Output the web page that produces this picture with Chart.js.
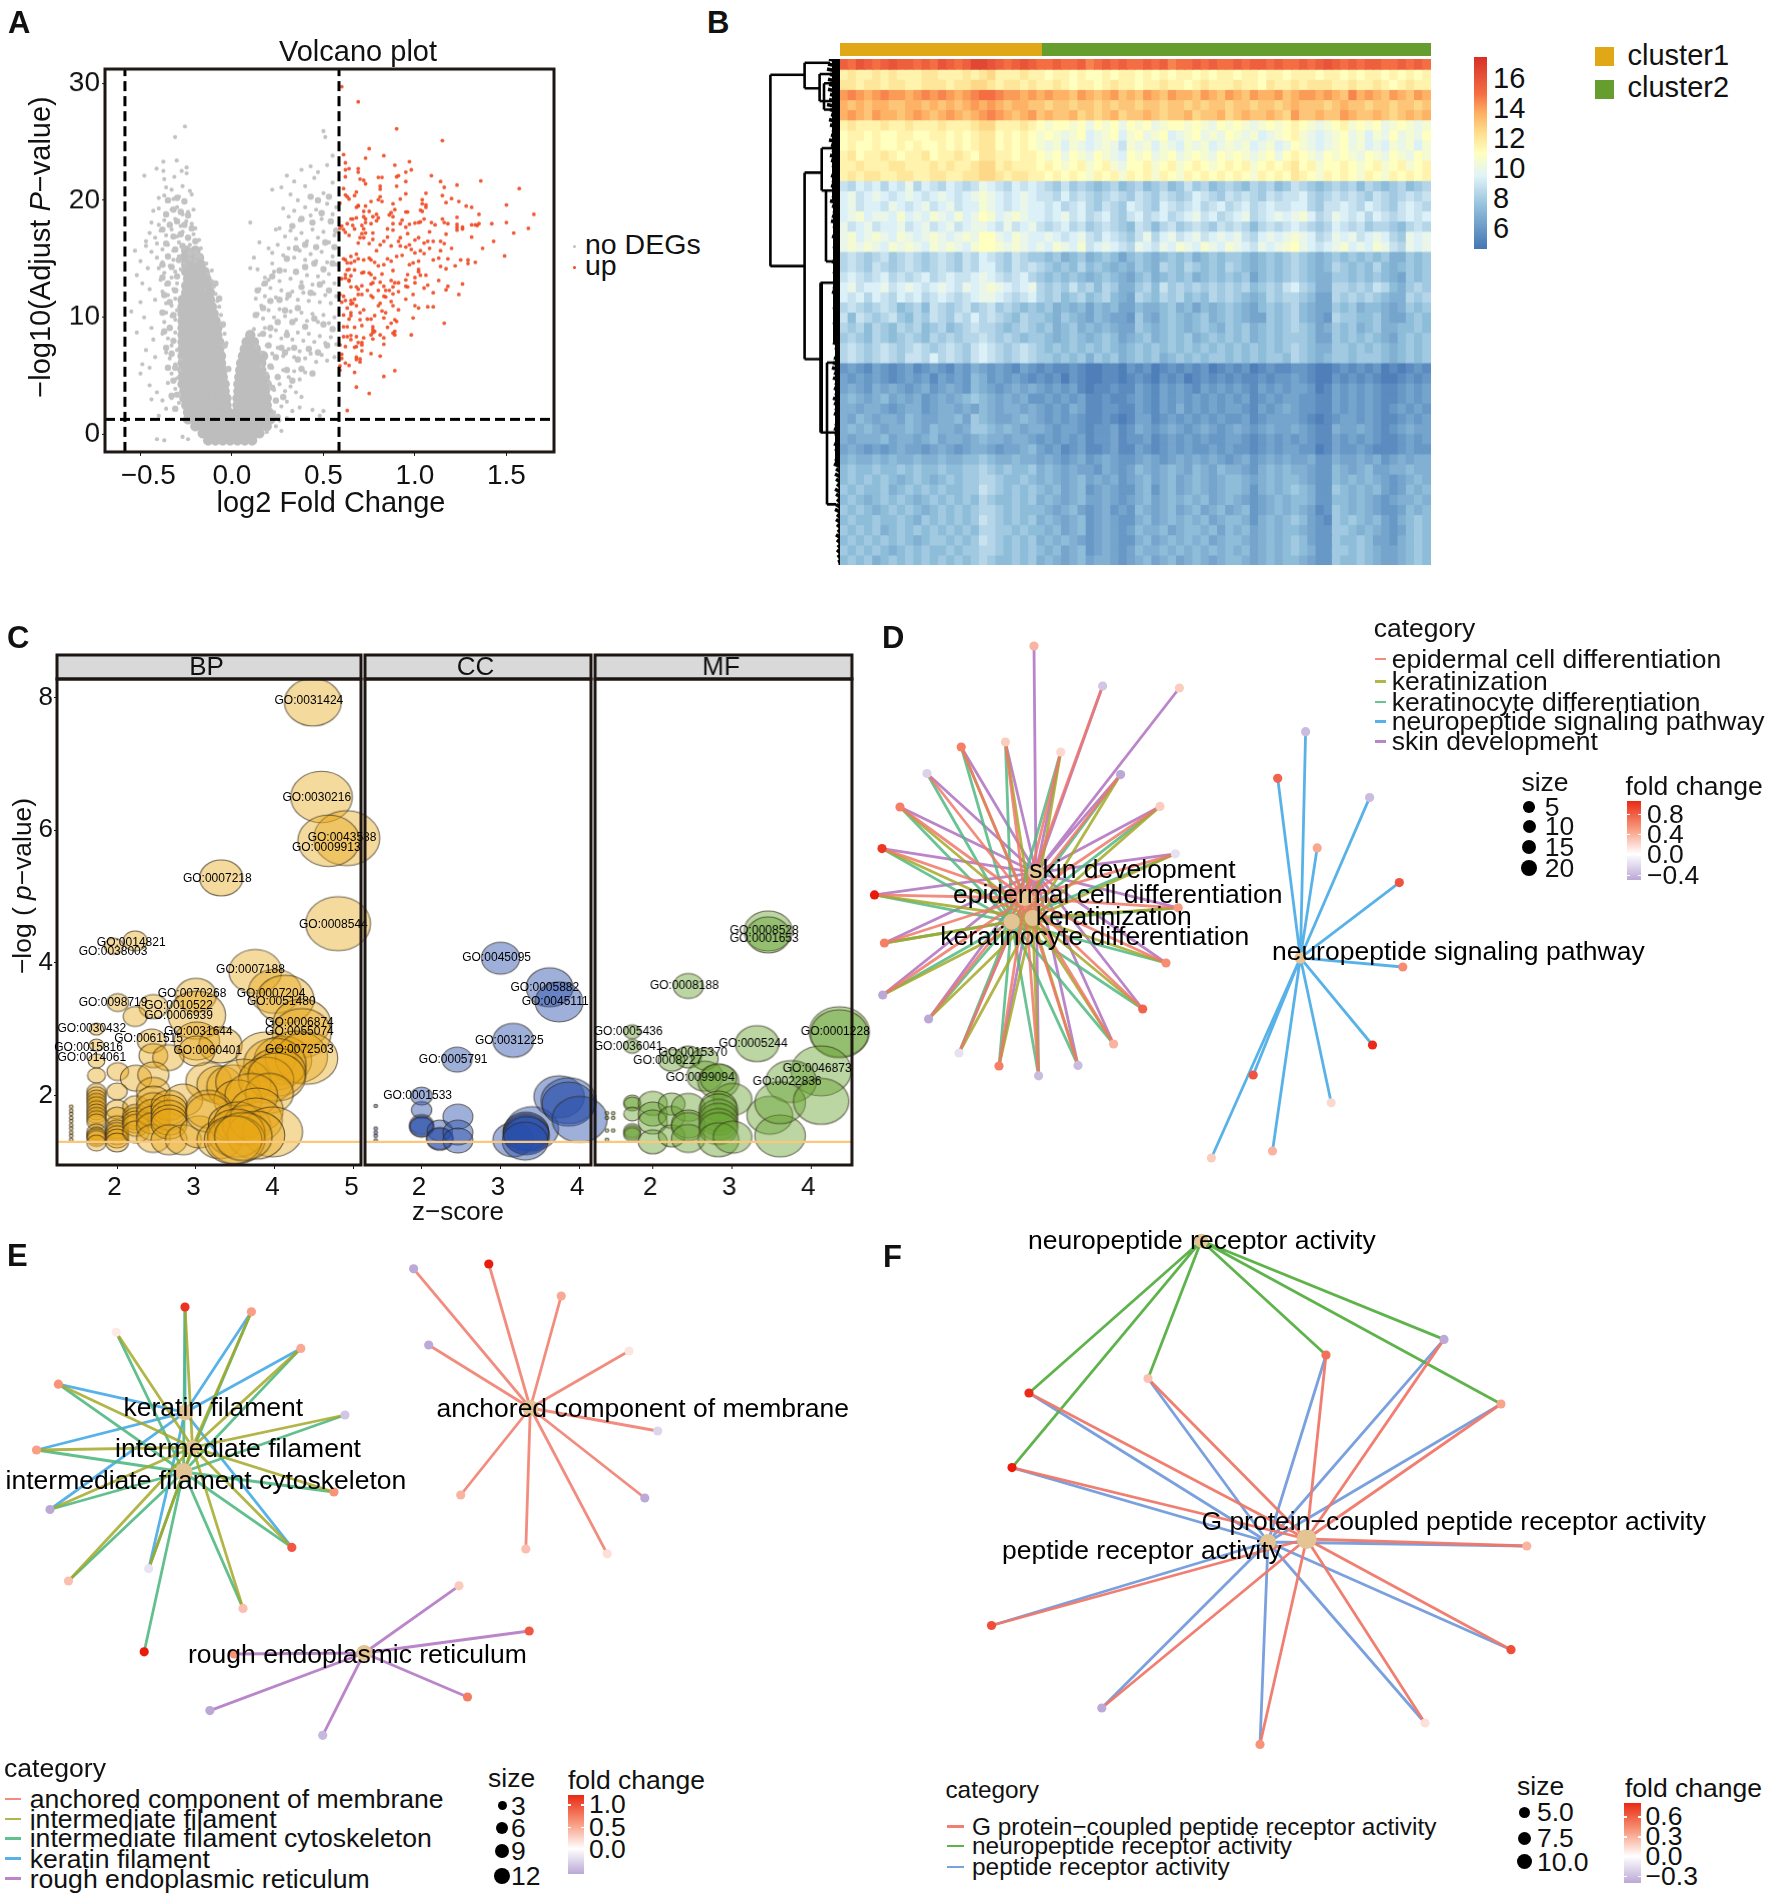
<!DOCTYPE html>
<html><head><meta charset="utf-8">
<script src="https://cdn.jsdelivr.net/npm/chart.js@4"></script>
<style>
html,body{margin:0;padding:0;background:#fff}
#page{position:relative;width:1772px;height:1898px;overflow:hidden;background:#fff;font-family:'Liberation Sans',Arial,sans-serif;color:#111}
#page canvas{position:absolute}
.t{position:absolute;white-space:pre;line-height:1;z-index:5}
.k{position:absolute;z-index:4}
</style></head><body><div id="page"></div>
<script>
/* ---------- Panel A: volcano ---------- */
const volcanoXTicks=[-0.5,0,0.5,1,1.5];
const volcanoYTicks=[0,10,20,30];
const volcanoCuts={fcLow:-0.585,fcHigh:0.585,p:1.3};
const volcanoUp=[[.60,29.7],[.69,28.4],[.90,26.1],[1.15,25.1],[.75,24.4],[.61,23.9],[.83,23.8],[.73,23.6],[.62,23.2],[.97,23.3],[.89,23.0],[.64,22.7],[.62,22.6],[.69,22.7],[.69,22.4],[.98,22.6],[.95,22.4],[1.09,22.1],[.62,22.0],[.70,21.8],[.72,21.7],[.73,21.4],[.80,21.95],[.82,21.95],[.90,22.0],[.91,22.1],[.95,21.6],[1.14,21.6],[1.36,21.65],[1.23,21.3],[1.16,21.1],[1.57,21.0],[.90,21.2],[.81,21.2],[.81,20.95],[.61,21.0],[.68,20.7],[.62,20.45],[.63,20.3],[.64,20.1],[.67,20.4],[.95,20.55],[1.06,20.6],[1.15,20.4],[.81,20.3],[.80,20.05],[.82,19.9],[.92,20.1],[1.04,20.05],[1.2,20.15],[1.24,19.9],[1.17,19.8],[.59,19.75],[.76,19.9],[.88,19.7],[1.04,19.7],[1.06,19.6],[1.06,19.4],[.69,19.5],[.68,19.4],[.69,19.55],[.73,19.5],[1.28,19.5],[1.31,19.4],[1.50,19.6],[1.03,19.15],[1.04,19.05],[.89,19.2],[.95,19.0],[.96,19.0],[.75,19.05],[.72,19.05],[.87,18.95],[.86,18.75],[.88,18.6],[.79,18.8],[.77,18.6],[.80,18.5],[1.35,18.8],[1.65,18.8],[1.23,18.55],[.68,18.5],[.66,18.4],[.65,18.4],[.72,18.6],[.73,18.4],[.73,18.1],[1.05,18.4],[1.15,18.4],[.93,18.3],[.92,18.0],[.79,18.25],[1.50,18.1],[1.02,18.1],[1.0,18.05],[1.03,18.15],[1.09,18.1],[1.16,18.1],[1.18,18.0],[.88,18.0],[.97,17.95],[1.42,18.0],[1.31,17.9],[1.33,17.9],[1.34,17.85],[1.35,18.0],[1.23,17.95],[1.23,17.7],[1.23,17.45],[1.26,17.7],[1.26,17.55],[1.11,17.9],[.95,17.7],[.66,17.85],[.67,17.55],[.63,18.0],[.60,17.8],[.59,17.6],[.61,17.5],[.71,17.85],[.72,17.55],[.76,18.0],[1.54,17.2],[1.62,17.6],[.88,17.45],[.85,17.55],[1.08,17.3],[1.17,17.1],[1.31,16.85],[1.43,16.5],[1.37,15.9],[1.49,15.25],
[.62,17.26],[.64,17.0],[.70,16.8],[.72,16.8],[.69,16.35],[.71,17.15],[.73,17.2],[.77,17.2],[.77,16.65],[.75,16.3],[.83,16.5],[.81,16.2],[.79,15.7],[.85,16.85],[.87,16.1],[.91,16.5],[.92,16.8],[.92,16.1],[.95,16.0],[.96,17.15],[.97,16.2],[.98,15.8],[1.0,15.5],[1.02,16.8],[1.0,16.6],[1.05,16.35],[1.07,16.5],[1.10,16.5],[1.03,15.7],[1.08,15.9],[1.14,16.5],[1.16,16.3],[1.14,15.7],[1.2,15.9],[1.13,15.05],[1.10,14.9],[1.18,15.0],[1.05,15.45],[1.25,14.9],[1.29,14.9],[1.29,14.6],[1.33,14.7],[1.22,14.4],[1.14,14.35],[1.17,14.15],[.97,14.5],[.99,14.65],[1.02,14.8],[1.02,14.1],[1.02,13.9],[.93,15.3],[.90,15.2],[.85,15.0],[.87,14.8],[.88,14.0],[.83,14.5],[.80,14.4],[.78,14.7],[.76,14.9],[.75,15.05],[.72,14.9],[.69,15.0],[.67,14.8],[.65,15.2],[.68,15.4],[.62,14.9],[.61,15.0],[.63,14.65],[.65,14.65],[.63,14.05],[.64,14.1],[.62,13.65],[.60,13.3],[.62,13.35],[.64,13.1],[.64,13.2],[.65,13.55],[.67,14.05],[.71,13.8],[.72,13.85],[.75,13.8],[.76,13.65],[.78,13.35],[.82,13.7],[.96,13.65],[.95,13.2],[1.0,13.4],[1.03,13.6],[1.06,13.6],[1.13,13.15],[1.0,12.95],[1.07,12.75],[.87,13.15],[.89,12.95],[.91,12.95],[.88,12.6],[.76,12.85],[.77,12.95],[.81,13.0],[.65,12.6],[.68,12.6],[.71,12.7],[.69,12.4],[.95,12.65],[.96,12.6],[1.05,12.5],[1.18,12.65],[1.17,12.35],[1.26,12.85],[.83,12.65],[.84,12.3],[.86,12.3],[.80,12.3],[.74,12.3],[.91,12.2],[.88,12.0],[.99,11.95],[1.10,12.1],[1.24,11.95],[.76,11.85],[.77,11.7],[.84,11.75],[.83,11.8],[.69,11.95],[.71,11.95],[.59,11.95],[.61,11.8],[.67,11.55],[.65,11.45],[.62,11.45],[.66,11.2],[.65,11.15],[.95,11.55],[.87,11.35],[.81,11.2],[.88,11.0],[.60,11.3],[.63,10.8],[.68,11.0],[.72,10.65],[.70,10.4],[1.0,11.0],[1.02,10.8],[1.07,10.9],[1.10,10.9],[.80,11.0],[.82,10.55],[.84,10.4],[.91,10.65],[.61,10.2],[.65,10.4],[.65,10.15],[.64,9.85],[.78,10.15],[.74,9.85],[.76,9.85],[.70,9.8],[.83,9.95],[.99,9.95],[.89,9.8],[.90,9.65],[.87,9.5],[1.16,9.5],[.61,9.2],[.63,9.2],[.67,9.15],[.71,9.3],[.77,9.2],[.85,9.15],[.77,8.95],[.78,8.8],[.77,8.7],[.88,8.65],[.89,8.8],[.89,8.5],[.61,8.35],[.63,8.35],[.65,8.45],[.68,8.35],[.72,8.25],[.65,8.1],[.69,7.85],[.76,8.5],[.77,8.15],[.81,8.5],[.83,8.25],[.98,8.5],[.59,7.65],[.62,7.5],[.67,7.45],[.68,7.5],[.71,7.85],[.71,7.65],[.83,7.7],[.71,7.15],[.76,6.9],[.60,6.85],[.60,6.5],[.68,6.6],[.68,6.4],[.70,6.45],[.70,6.2],[.81,6.7],[.62,6.1],[.64,5.9],[.59,5.85],[.59,5.5],[.67,5.3],[.83,4.95],[.89,5.45],[.68,4.05],[.75,3.5],[.63,2.05]];
/* dense part of the grey cloud: y level, then x positions along it */
const volcanoCoreRows=[
[-.5,[-.13,-.09,-.05,-.01,.03,.07,.11]],[.1,[-.16,-.12,-.08,-.04,0,.04,.08,.12,.15]],[.7,[-.2,-.16,-.12,-.08,-.04,-.01,.03,.07,.11,.15,.19]],
[1.3,[-.24,-.2,-.16,-.12,-.08,-.04,-.015,.02,.06,.1,.14,.18,.21]],[1.9,[-.24,-.2,-.16,-.12,-.08,-.04,-.02,.025,.06,.1,.14,.18,.2]],
[2.5,[-.25,-.21,-.17,-.13,-.09,-.05,-.03,.03,.07,.11,.15,.19]],[3.1,[-.26,-.22,-.18,-.14,-.1,-.06,-.03,.03,.07,.11,.15,.19]],
[3.7,[-.26,-.22,-.18,-.14,-.1,-.07,-.04,.035,.07,.11,.15,.18]],[4.3,[-.27,-.23,-.19,-.15,-.11,-.07,-.04,.035,.07,.11,.15,.19]],
[4.9,[-.27,-.23,-.19,-.15,-.11,-.08,-.05,.04,.07,.11,.15,.18]],[5.5,[-.27,-.23,-.19,-.15,-.11,-.08,-.05,.045,.08,.12,.16]],
[6.1,[-.27,-.23,-.19,-.15,-.12,-.09,-.06,.05,.09,.12,.16]],[6.7,[-.27,-.23,-.19,-.15,-.12,-.09,-.06,.06,.09,.13,.17]],
[7.3,[-.27,-.23,-.19,-.15,-.12,-.09,-.07,.07,.1,.13]],[7.9,[-.27,-.23,-.19,-.15,-.11,-.07,.08,.12]],[8.5,[-.27,-.23,-.19,-.15,-.11,-.08,.1]],
[9.1,[-.27,-.23,-.19,-.15,-.11,-.08]],[9.7,[-.27,-.23,-.19,-.15,-.12,-.09]],[10.3,[-.27,-.23,-.19,-.15,-.12,-.1]],[10.9,[-.27,-.23,-.19,-.15,-.11]],
[11.5,[-.27,-.23,-.19,-.15,-.12]],[12.1,[-.25,-.21,-.17,-.12]],[12.7,[-.25,-.21,-.17,-.13]],[13.3,[-.24,-.2,-.16,-.14]],[13.9,[-.25,-.22,-.18,-.15]],[14.5,[-.25,-.21,-.17]],[15.1,[-.26,-.21,-.18]],[15.7,[-.25,-.2]]];
/* medium density around the core */
const volcanoHalo=[[-.31,2.2],[-.3,3.4],[-.32,4.6],[-.31,5.7],[-.33,6.9],[-.32,8],[-.34,9.1],[-.32,10.2],[-.34,11.3],[-.31,12.3],[-.35,12.9],[-.3,13.5],[-.33,14.3],[-.29,14.9],[-.35,15.2],[-.31,15.8],[-.27,16.1],[-.23,15.5],[-.19,15.3],[-.36,16.3],[-.32,16.9],[-.28,17.1],[-.24,16.8],[-.2,16.5],[-.38,17.5],[-.34,17.9],[-.3,18.2],[-.26,17.9],[-.22,17.6],[-.36,18.8],[-.32,19.2],[-.28,19],[-.24,18.7],[-.35,20],[-.3,20.2],[-.26,19.9],[-.38,14.5],[-.38,13.4],[-.37,11.9],[-.38,10.4],[-.37,8.8],[-.36,7.4],[-.35,5.7],[-.33,3.3],[-.09,12.9],[-.07,11.6],[-.05,9.4],[-.04,7.6],[-.02,5.6],
[.22,1.6],[.24,2.9],[.22,4],[.25,4.9],[.21,5.8],[.24,6.6],[.27,7.4],[.2,7.6],[.17,8.6],[.21,9.1],[.25,9.6],[.13,10.2],[.17,10.8],[.21,11.4],[.14,12.3],[.18,12.9],[.22,13.5],[.26,14],[.3,5.5],[.29,7],[.3,8.5],[.34,7.4],[.33,9.6],[.29,10.6],[.26,11.5],[.31,11.9],[.36,10.8],[.4,9.2],[.45,9.9],[.38,12.6],[.43,12.1],[.48,12.8],[.53,12.3],[.35,13.9],[.4,14.3],[.45,14.6],[.5,14.1],[.55,14.6],[.3,15],[.35,15.9],[.4,16.2],[.46,16],[.51,16.4],[.56,16],[.33,17.8],[.38,18.4],[.44,18.1],[.49,18.9],[.54,18.2],[.57,17.4],[.47,20],[.53,20.3],[.43,20.3],[.36,6.4],[.42,7.3],[.47,7],[.52,7.6],[.55,9],[.5,9.4],[.33,4.6],[.38,5.6],[.44,5.2],[.28,3.2],[.25,1.5]];
const volcanoFlat=[[-.257,26.3],[-.311,25.4],[-.302,23.4],[-.375,23.3],[-.412,22.7],[-.375,22.5],[-.479,22.1],[-.37,21.8],[-.315,22],[-.275,22.5],[-.248,22.8],[-.248,22.3],[-.36,21.1],[-.33,20.9],[-.27,21.2],[-.23,20.8],[-.40,20.2],[-.37,20.4],[-.32,20.1],[-.29,20.3],[-.26,19.9],[-.22,20.5],[-.43,19.1],[-.40,19.3],[-.36,18.9],[-.33,19.2],[-.30,19.4],[-.27,18.8],[-.24,19.0],[-.21,19.2],[-.44,18.1],[-.40,17.9],[-.37,18.3],[-.34,18.0],[-.31,18.4],[-.28,17.8],[-.25,18.2],[-.22,18.0],[-.20,17.6],[-.45,17.2],[-.42,16.8],[-.39,17.4],[-.36,17.0],[-.33,17.5],[-.30,16.9],[-.27,17.3],[-.24,16.7],[-.21,17.1],[-.18,16.6],[-.47,16.1],[-.44,15.6],[-.41,16.3],[-.38,15.8],[-.35,16.2],[-.32,15.7],[-.29,16.4],[-.26,15.9],[-.23,16.2],[-.20,15.6],[-.17,15.9],[-.41,15.1],[-.38,14.7],[-.35,15.3],[-.32,14.9],[-.29,15.2],[-.26,14.6],[-.23,15.0],[-.20,14.8],[-.17,15.1],[-.14,14.6],[-.40,14.2],[-.37,13.8],[-.34,14.4],[-.31,13.9],[-.28,14.1],[-.13,13.7],[-.11,14.0],[-.39,13.2],[-.36,12.8],[-.33,13.4],[-.30,12.9],[-.11,13.1],[-.10,12.6],[-.38,12.2],[-.35,11.9],[-.32,12.4],[-.09,12.0],[-.08,11.4],[-.42,11.5],[-.36,11.2],[-.33,11.0],[-.31,11.6],[-.07,10.9],[-.06,10.2],[-.36,10.4],[-.33,10.1],[-.30,10.6],[-.37,9.6],[-.34,9.2],[-.31,9.8],[-.05,9.3],[-.38,8.6],[-.35,8.2],[-.31,8.7],[-.04,8.6],[-.33,7.6],[-.30,7.2],[-.36,7.0],[-.03,7.8],[-.34,6.5],[-.31,6.0],[-.28,6.4],[-.33,5.2],[-.30,4.8],[-.28,5.5],[-.35,4.4],[-.31,3.9],[-.33,3.1],[-.29,2.7],[-.36,2.2],[-.47,16.5],[-.50,14.8],[-.53,15.7],[-.46,14.2],[-.52,13.6],[-.49,12.9],[-.45,12.4],[-.50,11.3],[-.55,10.5],[-.48,10.0],[-.44,9.1],[-.52,8.7],[-.43,8.1],[-.47,7.2],[-.49,6.0],[-.45,5.7],[-.42,6.6],[-.45,4.2],[-.41,3.6],[-.38,2.9],[-.50,5.2],[-.44,3.0],[-.40,1.6],[-.37,-.5],[-.41,-.4],[-.27,-.2],[-.24,-.4],
[.10,14.2],[.10,18.1],[.12,15.1],[.14,14.1],[.15,16.4],[.17,12.8],[.13,11.6],[.16,11.0],[.18,13.4],[.20,15.9],[.22,14.6],[.24,17.5],[.22,20.9],[.27,21.1],[.30,22.1],[.32,20.5],[.34,21.6],[.36,20.0],[.38,22.6],[.40,21.2],[.43,22.9],[.45,21.9],[.47,22.4],[.50,20.6],[.52,23.0],[.55,21.5],[.50,25.9],[.51,25.4],[.55,23.8],[.28,19.3],[.31,18.6],[.34,19.1],[.37,18.3],[.40,19.4],[.43,18.7],[.46,19.2],[.49,18.4],[.52,19.7],[.55,18.8],[.57,19.4],[.26,17.6],[.29,16.9],[.32,17.4],[.35,16.7],[.38,17.2],[.41,16.5],[.44,17.5],[.47,16.8],[.50,17.3],[.53,16.4],[.56,17.0],[.22,15.5],[.25,16.2],[.28,15.3],[.31,15.9],[.34,15.1],[.37,15.7],[.40,14.9],[.43,15.4],[.46,14.8],[.49,15.6],[.52,14.7],[.55,15.2],[.57,14.5],[.20,13.2],[.23,13.9],[.26,13.1],[.29,14.0],[.32,13.3],[.35,13.8],[.38,13.0],[.41,13.6],[.44,12.8],[.47,13.5],[.50,13.0],[.53,13.7],[.56,12.9],[.15,12.4],[.18,11.8],[.21,12.5],[.24,11.7],[.27,12.3],[.30,11.6],[.33,12.2],[.36,11.5],[.39,12.1],[.42,11.4],[.45,12.0],[.48,11.3],[.51,11.9],[.54,11.2],[.57,11.8],[.14,10.3],[.17,9.9],[.20,10.6],[.23,10.0],[.26,10.7],[.29,10.1],[.32,10.5],[.35,9.8],[.38,10.4],[.41,9.7],[.44,10.3],[.47,9.6],[.50,10.2],[.53,9.5],[.56,10.0],[.12,9.0],[.15,8.5],[.18,9.1],[.21,8.4],[.24,8.9],[.27,8.2],[.30,8.8],[.33,8.1],[.36,8.7],[.39,8.0],[.42,8.6],[.45,7.9],[.48,8.4],[.51,7.8],[.54,8.3],[.57,7.7],[.13,7.5],[.16,7.0],[.19,7.6],[.22,6.9],[.25,7.4],[.28,6.7],[.31,7.3],[.34,6.6],[.37,7.1],[.40,6.5],[.43,6.9],[.46,6.2],[.49,6.8],[.52,6.3],[.56,6.6],[.16,5.8],[.19,5.2],[.22,5.7],[.25,5.0],[.28,5.5],[.31,4.9],[.34,5.4],[.37,4.7],[.40,5.3],[.20,4.4],[.23,3.8],[.26,4.3],[.29,3.7],[.32,4.1],[.35,3.6],[.38,3.2],[.24,2.9],[.27,2.4],[.30,2.8],[.33,2.0],[.23,1.9],[.26,1.2],[.30,1.4],[.24,.7],[.19,.2],[.27,.3],[.37,2.3],[.44,2.1],[.48,1.6],[.50,2.0]];

/* ---------- Panel B: heatmap (a=5, b=5.5, c=6 ... each letter adds 0.5) ---------- */
const clusterNames=['cluster1','cluster2'];
const clusterSizes=[134,259];
const heatmapRows=[
"vuwvuvwvvuvu wvuvxxwvuvwv uuvuuvtuvuvu uvuvtuuvuvuu vuvvuvuuvuvw vuvuvvuuvuvu",
"nonnononnnoo nnnonopnnnon nmnnmnmmnmnn mnmnmnnmnmnn mnnmnnmnnnmn nmnmnnmnmnmn",
"oonoonoonnoo onoopponoono nnonmnnmnonn mnnonnmnonnn onnmonnonooo nnonnonmnonn",
"stsrstssrsts tsrstuutssrs rsrrqsrqrsqr qsrqsrrqsrqs rqsrrsqrssrs rqtrsrqsrqsr",
"rqrqrrqqrrqr qrqrsrsrqrrq qpqqpqqpqpqq pqqpqqpqpqqp qqpqqpqrqqqp qrqqpqqpqqpq",
"rsrqsrrqrsrq rsrqrstsrqrs qrqqrpqpqrpq qrqpqqrpqqrp qrqqrqpsqqrq qsrqqrqpqrqr",
"nonnnonnonnn onnnoppnnnon mlmmlmkmlmkm lmklmmlmlkml mlklmlmnmlkl mnlmlmklmlkl",
"mnnmnmmnnmmn nmnmnoomnmnm lmlklmjklmjl mklmjklmklkm lkljklmnlkjk lmkljlkmklkm",
"mnmmnmmnmnmm nmnmnoomnmnm lkljlkjklkil kljlkjlkljkl kljkljkmlkjk lmkljkjlkljl",
"nomnnonmnnom nnonmoonnmnn mlmkmlkmlkjm lmklmklmlkml mlklmkmnmlkm lmlkmlkmlkml",
"nnonnnoonnno nonnoppnonnn mnmlmnlmnlkm mnlmnlmnmlmn mnlmnmnomnlm mnmlmnlmnlmn",
"nonoonnoonno onnoopponoon nmnmnmlnmnln mnlnmlnmnmnm nmlnmnmonmln mnmlnmlnmnmn",
"ihjijhjikhji hjihikjihjij ihgighgfghfg hfghfgighfgh gfhghfgihgfg hghfhgfghfgh",
"jkijkjijkjij kjijklkjijkj iihjhihghihg ihgihghjihgi hihgihiijhgh ihihgihghihi",
"jkijjikjijki jkijjlkjijkj jijhijhgihgj ihgjihijhijh ijhijiijjhgi ijihjihgijih",
"jkljkkjljkjl kjljkmljklkj jijkijhijhgi jhijhijkijhi jkhijkjkljhi kjijhjihijij",
"kijkijjkijki jkijkkjikijk ihijhighihgf ihfhighihgih ihfhihijihgh jihighhgfhih",
"kljklkjlkjkl kjklkmmkjlkj jkjijkihjihg ikhjkijkijkj kihjkjklkjhi kjkijkjhgkjk",
"klklkjlklkjl klkjlmmlklkj kjlkjlijkjih kjikjlkjlkjl kjikjklmkjij kljkjlkihkjk",
"hihghighihgh ihgihjihgihg gfgefgefgfdf gfefgfgefgfg gfefgfghgfef gfgfgfgeegfg",
"hihgihghihgh ihgihjjhgihi hgfgfhfgfefe gfehgfhgfgfh gfefgfghgfef hgfgfhfefgfg",
"ijihijhihijh ijiijkjihijh gfgfgfefgfed fgefgfgefgfg fgdfgfghgfee ggfgfgfedgfg",
"jkijjkijkjij kjikjklkjijk hghgighfhgee ghfighghghgh ghfghgijhgee hhghgihfeghg",
"jijhjihjijhi jihijkkjihij hghfghfghfed hgfhghfgfhgh gfefhghhgfdd hghghgfeehgh",
"hihghihfghfi hghighighgfg fgefefdfefdd feefgefdfefg fedfgfghfedd gfgeffedegfg",
"ifihghigfhgi hgihjhihgfhg gfegfedfeddc gedfgfefgefg feddgfghfedc hggffgeddfgf",
"hghfhgfhghfg hfghihhgfghg fgefgefefedd gfefgfefgfeg fgefgfghgfde gfgefgeeffgf",
"ghgfhgfghgfh ghghhihghgfg gfefgfefgfde fgefgfgefgfg fgefgfgggfdd gfgfgfedfgfg",
"hihghihghihg hihgijihghih gfgfgfgfgfef gfgfgfgfgfgf gfgfgfghgfee ggfgfgfefgfg",
"hihghihgiihj hihgijihghih ggfgfgegfgef gfgefgfgfggf gfgfggfhgfef ggfgggfefgfg",
"cdcbdcbcdbcd cbdcedcdcbdc bcbbcbaabbac bcabcbcbcabc bcabcbbccbaa bcbcbcababcb",
"dcdcdcbcdcdb dcdcfecdcdcb cbcacbaabbab cbacbcabcbcb cbbcbccdcbaa cbcbcbaabcbc",
"dedcededcdec dedcfedcdede dcdcdbabbcbb dcbdcdcbdcdc dcbdcdcddcab dcdcdcbbcdcd",
"efedefdedecd edefgfededec cdcdcdbbcbbc dcbdcdcdcdcd cdbcdcddccbb dcdcdcbbcdcd",
"eedeedcdeecd eededfedeede dcdcedbbccbb dcbdcecdcdcd dcbdcdedccbb dcdcdcbcdcdc",
"edfedeedfedd eefdgfeddefe dcdcdcbbcbab ddbcdcdcdcdc cdbcddddcbab cddcdcbbcdcd",
"efefedeefedf eedeggfefede edcddcbccdbc edcdedcdedcd edcdeddedcbb eddedcbcdedd",
"edeeefdeedef deedefeedeed cdcdcdbccdbc cdbcdcdcdccd dcbcdcdcdcbb dcdcdcbbcdcd",
"dedcdcdeddcd edcdeedcddef dcdbcdbbcdbb dcbcdcdccdcd ccbcdcddccab dccdcbbbcdcc",
"efeefefeefee feeffgfeefee dedcdecdedcc dedcdedededc decdededdecc eddedecdedee",
"fgffgffgfgff gffgghgfgffg efededdcedcd fedefedfedfe edcefefeedcc fedefddeefee",
"fgfgfgfefgfe fgfgghhgffgf efedefdedecd efdefdefedef fedefeffedcc fefefedcdefe",
"gfgffgefgfgf gffggihgfgfg fefdefcdedcc efcefdefedef fecefefgfecc gfefefdcdfef",
"fgfefgfgfefg fgfgfhgffgfg efedefddedcd efdefefefdef edcdefeffecc ffefedcdeefe",
"gfgfefgfgfef gfgfghhgfgff fedefdcdecdc fedefdefdefd efcdefefedbc gfefedccdfef",
"fgffgffgfegf gfgfgihgfgfg efedefcdedcc efdefefefdef fecefefgfdcb gfgfefdcefgf",
"gfgfgefgfgfg fgfgfhhggfgf fefdefcdedcd feefdeffefdf efdefeffedcc ggfefedcdfgf",
"fgfgfgfgfefg gfgfgihgfgfg efefedcdedcc efdefefefdef fedefefgfdcc gffgfddcefgf",
"gfgfgfefgfgf fgfgghhgfgfg fefdefcdedcd feefefefefef efdefefgfecc ggfgfeddefgf",
"fgfgefgfgfgf gfgfghgffgfg efedefdeedcd efdefdefedef fedefeffedcc gffgfeddefgf"];
const colorbarTicks=[16,14,12,10,8,6];
const dendroSegments=[[69.6,1.56,69.6,20.46],[69.6,1.56,35.4,1.56],[69.6,20.46,35.4,20.46],[35.4,.37,35.4,2.9],[35.4,.37,10,.37],[35.4,2.9,20.4,2.9],[20.4,1.49,20.4,4.16],[20.4,1.49,8,1.49],[20.4,4.16,8,4.16],[16,2.4,16,5],[16,2.4,8,2.4],[16,5,8,5],[35.4,11.23,35.4,29.65],[35.4,11.23,18.3,11.23],[35.4,29.65,18.3,29.65],[18.3,8.81,18.3,13],[18.3,8.81,6,8.81],[18.3,13,6,13],[19.5,22.1,19.5,36.9],[19.5,22.1,5,22.1],[19.5,36.9,5,36.9],[18.3,22.1,18.3,36.9],[13,30,13,44],[13,30,4,30],[13,44,4,44],[14,13,14,20],[14,13,5,13],[14,20,5,20]];
const dendroTrunk=[[4,0,4,14],[3,14,3,28],[1,28,1,40],[-2.5,40,-2.5,50]];
const dendroTips=[11,12,13,10,12,11,12,10,11,13,10,9,11,10,8,9,11,9,8,10,9,8,7,9,8,9,7,8,10,8,7,8,9,7,6,8,6,7,5,6,8,6,7,5,6,7,8,6,5,7,6,5,7,6,5,6,7,5,4,6,7,8,6,7,5,6,5,7,6,5,6,4,5,6,5,4,6,5,4,5,6,4,5,4,3,5,4,3,4,5,3,4,3,2,4,3,2,3,2,1];

/* ---------- Panel C: GO bubbles (z-score, -log p, size) ---------- */
const goXTicksBP=[2,3,4,5], goXTicksOther=[2,3,4], goYTicks=[2,4,6,8], goCut=1.3;
const bpBubbles=[[1.42,1.83,1.6],[1.42,1.77,1.6],[1.42,1.72,1.6],[1.42,1.66,1.6],[1.42,1.61,1.6],[1.42,1.55,1.6],[1.42,1.5,1.6],[1.42,1.44,1.6],[1.42,1.39,1.6],[1.42,1.33,1.6],
[4.48,7.93,23.7],[4.59,6.50,25.7],[4.91,5.88,27.5],[4.68,5.84,25.7],[3.32,5.28,18],[4.80,4.59,27],[2.23,4.33,10],[1.96,4.25,8],[3.75,3.87,22],[4.0,3.57,22],[4.13,3.45,24],[4.34,3.09,24],[4.34,2.94,24.5],[3.0,3.51,17],[2.46,3.34,12],[3.01,3.21,24],[2.01,3.40,9],[2.23,3.19,10],[1.74,3.0,6],[2.44,2.82,12],[3.01,2.82,19],[3.31,2.76,18],[3.01,2.67,15],[1.74,2.76,6],[1.74,2.52,7],[1.74,2.3,7.5],[2.01,2.36,9],[2.46,2.6,12],[2.65,2.57,13],[2.24,2.26,13],[2.46,2.31,13],
[3.89,2.58,25],[4.1,2.53,24],[4.27,2.58,26],[4.4,2.56,26],[4.0,2.47,26],[4.03,2.35,24],[3.16,2.21,19],[3.3,2.16,19],[3.47,2.13,22],[3.6,2.2,23],[3.89,2.23,23],[4.02,2.28,24],[3.53,1.93,20],[3.93,2.03,20],[3.7,2.0,22],[3.77,1.78,22],
[1.74,2.06,8],[1.74,2.01,8],[1.74,1.96,8],[1.74,1.91,8],[1.74,1.86,8],[1.74,1.8,8],[1.74,1.75,8],[1.74,1.7,8],[1.74,1.65,8],[1.74,1.6,8],[1.74,1.45,8],[1.74,1.4,8],[1.74,1.38,8],[1.74,1.35,8],[1.74,1.28,8],
[2.0,2.06,8.5],[2.0,1.79,9.5],[2.0,1.68,9.5],[2.0,1.55,9.5],[2.0,1.49,9.5],[2.0,1.45,9.5],[2.0,1.4,9.5],[2.0,1.35,9.5],[2.0,1.29,9.5],
[2.24,1.83,11],[2.24,1.7,11],[2.24,1.65,11],[2.24,1.6,11],[2.24,1.55,11],[2.24,1.45,11],
[2.46,2.06,14],[2.46,1.93,14],[2.46,1.83,14],[2.46,1.73,14],[2.46,1.63,14],[2.46,1.53,14],[2.46,1.35,14],
[2.84,1.93,16],[2.66,1.85,15],[2.66,1.78,15],[2.66,1.7,15],[2.66,1.63,15],[2.66,1.57,15],[2.66,1.33,15],[2.84,1.33,15],[3.04,1.45,16],[3.16,1.79,19],[3.16,1.73,19],[3.3,1.33,19],[3.43,1.58,18],[3.53,1.6,20],[3.64,1.55,20],[3.76,1.63,22],[3.97,1.45,25],[3.76,1.40,24],[3.51,1.43,24],[3.51,1.33,24],[3.47,1.33,24],[3.6,1.38,24]];
const bpLabels=[[4.43,7.95,'GO:0031424'],[4.53,6.49,'GO:0030216'],[4.85,5.88,'GO:0043588'],[4.65,5.73,'GO:0009913'],[3.27,5.27,'GO:0007218'],[4.74,4.58,'GO:0008544'],[2.18,4.31,'GO:0014821'],[1.95,4.16,'GO:0038003'],[3.69,3.89,'GO:0007188'],[3.95,3.53,'GO:0007204'],[4.08,3.41,'GO:0051480'],[2.95,3.53,'GO:0070268'],[2.78,3.35,'GO:0010522'],[2.78,3.2,'GO:0006939'],[1.95,3.4,'GO:0098719'],[1.68,3.0,'GO:0030432'],[2.4,2.85,'GO:0061515'],[3.03,2.96,'GO:0031644'],[3.15,2.67,'GO:0060401'],[4.31,3.1,'GO:0006874'],[4.31,2.96,'GO:0055074'],[4.31,2.69,'GO:0072503'],[1.64,2.72,'GO:0015816'],[1.68,2.57,'GO:0014061']];
const ccBubbles=[[1.42,1.84,1.6],[1.42,1.5,1.6],[1.42,1.44,1.6],[1.42,1.39,1.6],[1.42,1.32,1.6],[3.0,4.07,16],[3.62,3.63,19.5],[3.74,3.41,20],[3.16,2.83,17],[2.45,2.54,12.5],[2.0,1.99,9],[2.0,1.78,8.5],[2.0,1.56,10],[2.0,1.52,10],[2.0,1.53,10],[2.23,1.47,10.5],[2.23,1.35,11],[2.23,1.34,11],[2.46,1.68,12.5],[2.46,1.44,12.5],[2.46,1.32,12.5],[3.16,1.33,17],[3.4,1.5,22],[3.32,1.46,19],[3.32,1.44,19],[3.32,1.41,19],[3.33,1.39,19],[3.31,1.31,19],[3.74,1.98,21],[3.86,1.92,23],[3.86,1.87,22],[4.0,1.64,23]];
const ccLabels=[[2.95,4.07,'GO:0045095'],[3.56,3.63,'GO:0005882'],[3.69,3.41,'GO:0045111'],[3.11,2.83,'GO:0031225'],[2.40,2.54,'GO:0005791'],[1.95,1.99,'GO:0001533']];
const mfBubbles=[[1.42,1.73,1.6],[1.42,1.66,1.6],[1.42,1.47,1.6],[1.42,1.33,1.6],[1.5,1.73,1.6],[1.5,1.66,1.6],[1.5,1.47,1.6],[3.46,4.48,20],[3.46,4.42,18],[2.45,3.65,12.5],[1.74,2.96,7],[1.74,2.74,7],[2.45,2.58,11],[2.66,2.55,11],[2.24,2.53,11],[2.66,2.29,15],[2.83,2.21,17],[2.83,2.25,15],[3.01,1.94,16],[3.32,2.78,18],[4.36,2.96,25],[4.36,2.93,24],[4.13,2.37,25],[3.75,2.21,21],[3.48,1.70,19],[3.61,1.39,21],[3.61,1.89,21],[4.13,1.91,23],[1.74,1.90,7],[1.74,1.87,7],[1.74,1.72,7],[1.74,1.47,7],[1.74,1.44,7],[1.74,1.41,7],[2.0,1.88,12],[2.0,1.72,12],[2.0,1.60,12],[2.0,1.30,12],[2.24,1.87,11],[2.24,1.67,11],[2.24,1.39,11],[2.45,1.82,14],[2.45,1.57,14],[2.45,1.53,14],[2.45,1.35,14],[2.83,1.84,15],[2.83,1.78,16],[2.83,1.70,16],[2.83,1.64,16],[2.83,1.56,16],[2.83,1.50,16],[2.83,1.33,17],[3.01,1.37,16]];
const mfLabels=[[3.41,4.49,'GO:0008528'],[3.41,4.37,'GO:0001653'],[2.40,3.65,'GO:0008188'],[1.69,2.96,'GO:0005436'],[1.69,2.74,'GO:0036041'],[2.51,2.65,'GO:0015370'],[2.19,2.52,'GO:0008227'],[2.60,2.27,'GO:0099094'],[3.27,2.78,'GO:0005244'],[4.31,2.96,'GO:0001228'],[4.08,2.40,'GO:0046873'],[3.70,2.20,'GO:0022836']];

/* ---------- Panels D/E/F: gene-concept networks (layout position, fold change) ---------- */
const netDCategories=['epidermal cell differentiation','keratinization','keratinocyte differentiation','neuropeptide signaling pathway','skin development'];
const netDColors=['rgba(240,120,105,.85)','rgba(165,168,40,.85)','rgba(80,185,130,.85)','rgba(70,170,230,.9)','rgba(178,120,195,.9)'];
const netDHubs=[[1025,898],[1032.7,918],[1011.7,921.7],[1300.4,957.8],[1036,872.7]];
const netDLeaves=[[1034,646,.3],[1102.6,686,-.2],[1179.4,688,.2],[961.2,747,.5],[1005.4,742,.2],[1060.7,752,.15],[927,773.5,-.15],[1120.6,774.6,-.35],[900,807,.5],[1160,806.4,.2],[882,848.6,.75],[1175.3,853.8,-.08],[874.5,894.9,.85],[1178.2,907.8,.4],[884.4,943,.5],[1166,963,.45],[882.7,995,-.4],[1142.7,1009,.6],[928.6,1019,-.35],[1113.6,1044,.3],[959,1053,-.08],[999,1066,.5],[1038.6,1075.8,-.25],[1078,1065.4,-.25],
[1305.6,731.7,-.25],[1277.7,778.3,.6],[1369.6,797.6,-.25],[1317.2,847.9,.35],[1399.3,882.6,.65],[1402.8,967,.45],[1372.5,1045,.8],[1253.2,1075,.65],[1331.2,1102.8,.15],[1272.5,1151,.3],[1211.4,1158,.2]];
const netDMembers=[[1,3,4,5,6,7,8,9,10,11,12,13,14,15,16,17,18,19,20,21,22,23],[3,4,5,7,8,9,10,11,12,13,14,15,16,17,18,19,20,21,22,23],[3,4,5,6,7,8,9,10,11,12,13,14,15,16,17,18,19,20,21,22,23],[24,25,26,27,28,29,30,31,32,33,34],[0,1,2,3,4,5,6,7,8,9,10,11,12,13,14,15,16,17,18,19,20,21,22,23]];
const netDLabels=[[1029.3,870.8,'skin development'],[953,896,'epidermal cell differentiation'],[1035.7,917.4,'keratinization'],[940.3,937.4,'keratinocyte differentiation'],[1271.9,952.6,'neuropeptide signaling pathway']];

const netECategories=['anchored component of membrane','intermediate filament','intermediate filament cytoskeleton','keratin filament','rough endoplasmic reticulum'];
const netEColors=['rgba(240,120,105,.85)','rgba(165,168,40,.85)','rgba(80,185,130,.9)','rgba(70,170,230,.9)','rgba(178,120,195,.9)'];
const netEHubs=[[530.3,1408],[192.5,1447.3],[183.5,1472],[185,1412.4],[364.2,1653]];
const netELeaves=[[185,1307,.9],[251.4,1311.8,.45],[116.2,1332.3,.1],[300.8,1348.4,.4],[58.4,1384.2,.5],[345,1415,-.15],[36.5,1450,.45],[333.9,1492,.5],[50,1509.5,-.3],[291.8,1547.4,.75],[68.5,1581,.3],[148.7,1568.7,-.05],[243,1608.4,.3],[144.2,1651.8,1.0],
[413.6,1268.8,-.25],[488.8,1264,1.0],[561.2,1296,.4],[428.7,1345,-.25],[629,1351,.12],[657.7,1431,-.1],[644.8,1498,-.25],[460.7,1495,.35],[525.8,1549,.3],[607.2,1553.8,.15],
[459,1585.8,.25],[529.2,1631,.75],[234,1654,.5],[467.5,1697,.6],[209.9,1710.6,-.3],[322.7,1735.3,-.2]];
const netEMembers=[[14,15,16,17,18,19,20,21,22,23],[0,1,2,3,4,5,6,7,8,9,10,11,12],[0,1,2,3,4,5,6,7,8,9,10,11,12,13],[0,1,3,4,6,8,9,11],[24,25,26,27,28,29]];
const netELabels=[[123.5,1409,'keratin filament'],[115,1449.4,'intermediate filament'],[5.6,1481.4,'intermediate filament cytoskeleton'],[436.6,1410,'anchored component of membrane'],[188,1656,'rough endoplasmic reticulum']];

const netFCategories=['G protein\u2212coupled peptide receptor activity','neuropeptide receptor activity','peptide receptor activity'];
const netFColors=['rgba(240,120,105,.95)','rgba(85,175,65,.95)','rgba(115,155,220,.95)'];
const netFHubs=[[1306.6,1539],[1201.4,1240.7],[1268,1542]];
const netFLeaves=[[1029,1393,.65],[1012,1467.6,.7],[1148,1378.5,.2],[1326,1355,.45],[1444,1339.4,-.25],[1501,1404,.3],[1526.8,1546,.25],[1511,1649.7,.55],[1425,1723,.1],[1260,1744.4,.35],[1101.8,1708,-.25],[991.5,1625.5,.55]];
const netFMembers=[[0,1,2,3,4,5,6,7,8,9,10,11],[0,1,2,3,4,5],[0,1,2,3,4,5,6,7,8,9,10,11]];
const netFLabels=[[1028,1241.6,'neuropeptide receptor activity'],[1201.4,1522.4,'G protein\u2212coupled peptide receptor activity'],[1002,1551.4,'peptide receptor activity']];

/* ---------- helpers ---------- */
const page=document.getElementById('page');
const FONT="'Liberation Sans', Arial, sans-serif";
const INK='#1c1512';
Chart.defaults.animation=false;
Chart.defaults.font.family=FONT;
Chart.defaults.color='#111';
Chart.defaults.layout.autoPadding=false;
function T(x,y,html,size,o={}){
  const d=document.createElement('div');d.className='t';d.innerHTML=html;
  d.style.left=x+'px';d.style.top=y+'px';d.style.fontSize=size+'px';
  if(o.bold)d.style.fontWeight='bold';
  d.style.transform=(o.center?'translate(-50%,-50%)':'translateY(-50%)')+(o.rot?' rotate(-90deg)':'');
  page.appendChild(d);
}
function K(x,y,w,h,bg,r){
  const d=document.createElement('div');d.className='k';
  d.style.cssText+=`left:${x}px;top:${y}px;width:${w}px;height:${h}px;background:${bg};`+(r?'border-radius:50%;':'');
  page.appendChild(d);
}
function makeCanvas(x,y,w,h){
  const c=document.createElement('canvas');
  c.width=w;c.height=h;c.style.cssText=`left:${x}px;top:${y}px;width:${w}px;height:${h}px`;
  page.appendChild(c);return c;
}
function framePlugin(width,strip){return {id:'frame',afterDatasetsDraw(ch){
  const a=ch.chartArea,g=ch.ctx;g.save();
  if(strip){g.fillStyle='#d9d9d9';g.fillRect(a.left,a.top-24,a.width,24);}
  g.strokeStyle=INK;g.lineWidth=width;g.strokeRect(a.left,a.top,a.width,a.height);
  if(strip){g.strokeRect(a.left,a.top-24,a.width,24);
    g.fillStyle='#111';g.font='26px '+FONT;g.textAlign='center';g.textBaseline='middle';g.fillText(strip,(a.left+a.right)/2-2.5,a.top-11);}
  g.restore();}};}
function labelPlugin(items,font,align){return {id:'labels',afterDraw(ch){
  const g=ch.ctx;g.save();g.font=font;g.fillStyle='#000';g.textAlign=align;g.textBaseline='middle';
  for(const [x,y,s] of items)g.fillText(s,ch.scales.x.getPixelForValue(x),ch.scales.y.getPixelForValue(y));
  g.restore();}};}
function axisChart(cfg){
  const {plot,L,T:top,R,B}=cfg;
  const cv=makeCanvas(plot.x-L,plot.y-top,plot.w+L+R,plot.h+top+B);
  const tickCommon={autoSkip:false,maxRotation:0,minRotation:0,includeBounds:false};
  return new Chart(cv,{type:'scatter',data:{datasets:cfg.datasets},plugins:cfg.plugins,options:{
    responsive:false,devicePixelRatio:1,events:[],
    layout:{autoPadding:false,padding:{top,right:R,left:0,bottom:0}},
    plugins:{legend:{display:false},tooltip:{enabled:false}},
    scales:{
      x:{type:'linear',min:cfg.x[0],max:cfg.x[1],border:{display:false},
        grid:{drawOnChartArea:false,drawTicks:true,tickLength:4,color:INK},
        afterFit:s=>{s.height=B},afterBuildTicks:a=>{a.ticks=cfg.xTicks.map(v=>({value:v}))},
        ticks:{...tickCommon,padding:cfg.xPad,labelOffset:cfg.xShift||0,font:{size:cfg.tickSize},color:'#111',callback:cfg.xFmt}},
      y:{type:'linear',min:cfg.y[0],max:cfg.y[1],border:{display:false},
        grid:{drawOnChartArea:false,drawTicks:!!cfg.yTicks,tickLength:3,color:INK},
        afterFit:s=>{s.width=L},afterBuildTicks:a=>{a.ticks=(cfg.yTicks||[]).map(v=>({value:v}))},
        ticks:{...tickCommon,display:!!cfg.yTicks,padding:cfg.yPad||1,font:{size:cfg.tickSize},color:'#111',callback:v=>String(v)}}
    }}});
}
const mix=(a,b,t)=>a.map((v,i)=>Math.round(v+(b[i]-v)*t));
const rgb=c=>`rgb(${c[0]},${c[1]},${c[2]})`;
function foldColor(v,max,min){
  const W=[255,255,255],M=[247,148,120],R=[234,26,12],P=[187,168,214];
  if(v<0)return rgb(mix(W,P,Math.min(1,v/min+.15)));
  const t=v/max;return rgb(t<.5?mix(W,M,t*2):mix(M,R,(t-.5)*2));
}
/* ---------- Panel A ---------- */
const line=(pts,color,w,dash,order)=>({data:pts,showLine:true,pointRadius:0,borderColor:color,borderWidth:w,borderDash:dash||[],order,clip:false,spanGaps:false});
const ax=[-0.694,1.76], ay=[-1.49,31.2];
axisChart({plot:{x:105,y:69.3,w:449,h:382.7},L:60,T:22,R:6,B:40,x:ax,y:ay,xTicks:volcanoXTicks,yTicks:volcanoYTicks,tickSize:28,xPad:3,yPad:2,
  xFmt:v=>(v<0?'\u00a0\u00a0':'')+v.toFixed(1).replace('-','\u2212'),
  datasets:[
    line([{x:volcanoCuts.fcLow,y:ay[0]},{x:volcanoCuts.fcLow,y:ay[1]}],'#000',3,[10,5],-1),
    line([{x:volcanoCuts.fcHigh,y:ay[0]},{x:volcanoCuts.fcHigh,y:ay[1]}],'#000',3,[10,5],-1),
    line([{x:ax[0],y:volcanoCuts.p},{x:ax[1],y:volcanoCuts.p}],'#000',3,[10,5],-1),
    {data:volcanoUp.map(([x,y])=>({x,y})),pointRadius:1.9,pointBackgroundColor:'rgba(240,72,32,.9)',pointBorderWidth:0,order:0},
    {data:volcanoFlat.map(([x,y])=>({x,y})),pointRadius:2.1,pointBackgroundColor:'#c2c2c2',pointBorderWidth:0,order:1},
    {data:volcanoHalo.map(([x,y])=>({x,y})),pointRadius:3.2,pointBackgroundColor:'#c2c2c2',pointBorderWidth:0,order:2},
    {data:volcanoCoreRows.flatMap(([y,xs])=>xs.map(x=>({x,y}))),pointRadius:5.2,pointBackgroundColor:'#bdbdbd',pointBorderWidth:0,order:3}
  ],plugins:[framePlugin(3)]});
T(358,51,'Volcano plot',29,{center:1});
T(40,247,'\u2212log10(Adjust <i>P</i>\u2212value)',29,{center:1,rot:1});
T(331,502,'log2 Fold Change',29,{center:1});
K(572.5,245,3,3,'#c2c2c2',1);K(572.5,265.5,3.5,3.5,'#f04820',1);
T(585,244,'no DEGs',28.5);T(585,265,'up',28.5);
T(8,22,'A',31,{bold:1});
/* ---------- Panel B ---------- */
const heatStops=[[4.6,[69,117,180]],[7.6,[145,191,219]],[9.6,[224,243,248]],[11,[255,255,191]],[12.3,[254,224,144]],[13.6,[253,174,97]],[15,[244,109,67]],[17.4,[215,48,39]]];
function heatColor(v){for(let i=1;i<heatStops.length;i++){if(v<=heatStops[i][0]){const a=heatStops[i-1],b=heatStops[i];return rgb(mix(a[1],b[1],Math.max(0,(v-a[0])/(b[0]-a[0]))));}}return rgb(heatStops[7][1]);}
const heatValues=heatmapRows.map(s=>[...s.replace(/ /g,'')].map(c=>5+.5*(c.charCodeAt(0)-97)));
const heatCols=Math.max(...heatValues.map(r=>r.length));
const bareScales=(xmin,xmax,ymin,ymax,rev)=>({x:{type:'linear',display:false,min:xmin,max:xmax},y:{type:'linear',display:false,min:ymin,max:ymax,reverse:rev}});
new Chart(makeCanvas(840,59.4,591,505.3),{type:'bar',
  data:{labels:Array.from({length:heatCols},(_, i)=>i),datasets:heatValues.map((r,ri)=>({
    data:r.map(()=>[ri,ri+1]),backgroundColor:r.map(heatColor),borderWidth:0,grouped:false,barPercentage:1,categoryPercentage:1,inflateAmount:.6}))},
  options:{responsive:false,devicePixelRatio:1,events:[],plugins:{legend:{display:false},tooltip:{enabled:false}},
    scales:{x:{display:false,offset:true},y:{type:'linear',display:false,min:0,max:heatValues.length,reverse:true}}}});
new Chart(makeCanvas(840,42.5,591,13.1),{type:'bar',
  data:{labels:['annotation'],datasets:clusterSizes.map((v,i)=>({label:clusterNames[i],data:[v],backgroundColor:['#e0a817','#659e2f'][i],stack:'s',barPercentage:1,categoryPercentage:1,borderWidth:0}))},
  options:{indexAxis:'y',responsive:false,devicePixelRatio:1,events:[],plugins:{legend:{display:false},tooltip:{enabled:false}},
    scales:{x:{display:false,stacked:true,min:0,max:clusterSizes[0]+clusterSizes[1]},y:{display:false,stacked:true}}}});
const segPts=list=>{const p=[];list.forEach(([a,b,c,d])=>p.push({x:a,y:b},{x:c,y:d},{x:null,y:null}));return p;};
const tipPts=[];
dendroTips.forEach((h,i)=>tipPts.push({x:h,y:i/2},{x:0,y:i/2+.25},{x:null,y:null}));
new Chart(makeCanvas(768,59.4,72,505.3),{type:'scatter',data:{datasets:[
   {...line(segPts(dendroSegments),'#000',2.6),clip:true},{...line(tipPts,'#000',3.6),clip:true},{...line(segPts(dendroTrunk),'#000',8),clip:true}]},
  options:{responsive:false,devicePixelRatio:1,events:[],plugins:{legend:{display:false},tooltip:{enabled:false}},
    scales:{x:{type:'linear',display:false,min:0,max:72,reverse:true},y:{type:'linear',display:false,min:0,max:50,reverse:true}}}});
K(1473.7,57,13,192,'linear-gradient(to bottom,#d73027 0%,#f46d43 19%,#fdae61 29%,#fee090 40%,#ffffbf 50%,#e0f3f8 62%,#91bfdb 78%,#4575b4 100%)');
colorbarTicks.forEach(v=>T(1493,77.8+(16-v)*15,String(v),29));
K(1595.4,47,18.6,18.8,'#e0a817');K(1595.4,80,18.6,19,'#659e2f');
T(1627.5,54.5,clusterNames[0],29);T(1627.5,87,clusterNames[1],29);
T(707,22,'B',31,{bold:1});
/* ---------- Panel C ---------- */
const spriteCache={};
function bubbleSprite(r,fill,stroke){
  const key=r+fill;if(spriteCache[key])return spriteCache[key];
  const rx=1.2*r,c=document.createElement('canvas');c.width=Math.ceil(2*rx+4);c.height=Math.ceil(2*r+4);
  const g=c.getContext('2d');g.beginPath();g.ellipse(c.width/2,c.height/2,rx,r,0,0,7);g.fillStyle=fill;g.fill();g.lineWidth=1.1;g.strokeStyle=stroke;g.stroke();
  return spriteCache[key]=c;
}
function facet(plot,R,L,xr,xTicks,yTicks,list,labels,fill,strip){
  axisChart({plot,L,T:28,R,B:40,x:xr,y:[.95,8.28],xTicks,yTicks,tickSize:26,xPad:3,yPad:0,xShift:-2.5,xFmt:v=>String(v),
    datasets:[
      line([{x:xr[0],y:goCut},{x:xr[1],y:goCut}],'#fbc77d',2.2,[],-1),
      {data:list.map(([x,y])=>({x,y})),clip:false,order:0,pointRadius:3,pointBorderWidth:0,pointStyle:list.map(b=>bubbleSprite(b[2],fill,'rgba(50,42,25,.68)'))}
    ],plugins:[framePlugin(3,strip),labelPlugin(labels,'12px '+FONT,'center')]});
}
facet({x:56.7,y:679,w:304,h:486},30,50,[1.24,5.09],goXTicksBP,goYTicks,bpBubbles,bpLabels,'rgba(230,168,23,.42)','BP');
facet({x:364.7,y:679,w:226,h:486},22,4,[1.284,4.144],goXTicksOther,null,ccBubbles,ccLabels,'rgba(40,78,170,.45)','CC');
facet({x:595,y:679,w:256.7,h:486},22,4,[1.27,4.52],goXTicksOther,null,mfBubbles,mfLabels,'rgba(105,165,50,.45)','MF');
T(22,886,'\u2212log ( <i>p</i>\u2212value)',26.4,{center:1,rot:1});
T(458,1211,'z\u2212score',26,{center:1});
T(7,637,'C',31,{bold:1});
/* ---------- Panels D/E/F ---------- */
function network(box,hubs,leaves,members,colors,labels,fmax,fmin,hubSizes){
  const datasets=members.map((m,i)=>{const pts=[];m.forEach(j=>pts.push({x:hubs[i][0],y:hubs[i][1]},{x:leaves[j][0],y:leaves[j][1]},{x:null,y:null}));
    return {...line(pts,colors[i],2.8,[],i+1),clip:false};});
  datasets.push({data:leaves.map(l=>({x:l[0],y:l[1]})),pointRadius:4.6,pointBorderWidth:0,pointBackgroundColor:leaves.map(l=>foldColor(l[2],fmax,fmin)),order:0});
  datasets.push({data:hubs.map(h=>({x:h[0],y:h[1]})),pointRadius:hubSizes,pointBorderWidth:0,pointBackgroundColor:'#e4c493',order:0});
  new Chart(makeCanvas(box[0],box[1],box[2]-box[0],box[3]-box[1]),{type:'scatter',data:{datasets},plugins:[labelPlugin(labels,'26.5px '+FONT,'left')],
    options:{responsive:false,devicePixelRatio:1,events:[],layout:{autoPadding:false,padding:0},plugins:{legend:{display:false},tooltip:{enabled:false}},scales:bareScales(box[0],box[2],box[1],box[3],true)}});
}
network([860,620,1772,1175],netDHubs,netDLeaves,netDMembers,netDColors,netDLabels,.85,-.4,[8,8,8,6,8]);
network([0,1240,880,1760],netEHubs,netELeaves,netEMembers,netEColors,netELabels,1,-.3,[8,7,9,8,8]);
network([880,1225,1772,1760],netFHubs,netFLeaves,netFMembers,netFColors,netFLabels,.7,-.3,[10,7,8]);
function categoryLegend(x,titleY,keyX,keyW,textX,names,colors,ys,size){
  T(x,titleY,'category',size);
  names.forEach((n,i)=>{K(keyX,ys[i]-1.3,keyW,2.8,colors[i]);T(textX,ys[i],n,size);});
}
function sizeLegend(x,y,dotX,textX,names,rads,ys){
  T(x,y,'size',26.5);
  names.forEach((n,i)=>{K(dotX-rads[i],ys[i]-rads[i],2*rads[i],2*rads[i],'#000',1);T(textX,ys[i],n,26.5);});
}
function foldLegend(tx,ty,bx,by,bw,bh,zero,labelX,names,ys){
  T(tx,ty,'fold change',26.5);
  K(bx,by,bw,bh,`linear-gradient(to bottom,#ea2a14 0%,#f79478 ${zero*50}%,#ffffff ${zero*100}%,#bba8d6 100%)`);
  names.forEach((n,i)=>{K(bx,ys[i],3,1.5,'#fff');K(bx+bw-3,ys[i],3,1.5,'#fff');T(labelX,ys[i],n,26.5);});
}
categoryLegend(1373.7,627.7,1375,10.5,1391.7,netDCategories,netDColors,[659,681.4,702,721.3,741.3],26.5);
sizeLegend(1521.4,782.4,1529,1544.7,['5','10','15','20'],[5.8,6.5,7.2,8],[807,826,847,868]);
foldLegend(1625.6,786,1626.7,800.9,14.6,79.5,.67,1647,['0.8','0.4','0.0','\u22120.4'],[813.5,833.8,854,874.5]);
T(882,637,'D',31,{bold:1});
categoryLegend(4,1767.7,4.5,16.8,29.7,netECategories,netEColors,[1798.8,1818.8,1838.4,1858.5,1878.5],26.6);
sizeLegend(488,1777.5,502,511,['3','6','9','12'],[4.5,6,7,8],[1805.6,1827.8,1850.8,1875.5]);
foldLegend(568,1779.6,568,1794.6,15.6,79.4,.68,589,['1.0','0.5','0.0'],[1804.4,1826.5,1848.7]);
T(7,1255,'E',31,{bold:1});
categoryLegend(945.4,1790,947,17,972,netFCategories,netFColors,[1826.5,1846,1866.8],24.4);
sizeLegend(1517,1786,1524,1537,['5.0','7.5','10.0'],[5.5,6.5,7.5],[1812,1838,1861.6]);
foldLegend(1625,1788,1624,1803,16.5,79.6,.665,1645.6,['0.6','0.3','0.0','\u22120.3'],[1816,1836,1856,1875.6]);
T(883,1256,'F',31,{bold:1});
</script></body></html>
